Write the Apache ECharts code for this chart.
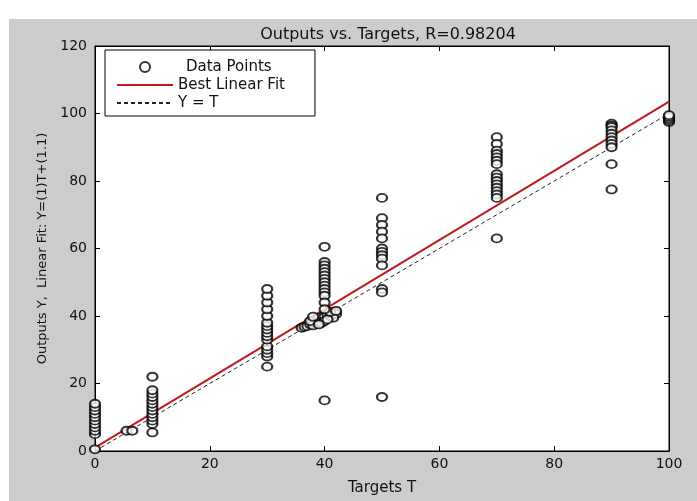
<!DOCTYPE html>
<html><head><meta charset="utf-8">
<script src="https://cdn.jsdelivr.net/npm/echarts@6/dist/echarts.min.js"></script>
<style>
html,body{margin:0;padding:0;background:#fff;width:697px;height:501px;overflow:hidden}
#c{position:absolute;left:9px;top:19px;width:688px;height:482px;background:#cccccc}
</style></head><body><div id="c"></div>
<script>
// Data points: [target, output]
const t0 = [0.5, 5, 6, 7, 8, 9, 10, 11, 12, 13, 14];
const t6 = [[5.5, 6], [6.5, 6]];
const t10 = [5.5, 8, 9, 10, 11, 12, 13, 14, 15, 16, 17, 18, 22];
const t30 = [25, 28, 29, 30, 31, 33, 34, 35, 36, 37, 38, 40, 42, 44, 46, 48];
const blob = [[36, 36.5], [36.5, 36.8], [37, 37], [37.5, 37.5], [38, 38], [38, 37.2], [38.5, 39], [39, 38.3], [39, 39.5], [39.5, 38], [40, 39.8], [40, 38.5], [40.5, 40.5], [41, 40], [41.5, 41], [42, 40.6], [41.5, 39.5], [37.5, 38.5], [38, 39.8], [39, 37.5], [40.5, 39], [41, 41.2], [42, 41.5]];
const t40 = [60.5, 56, 55, 54, 53, 52, 51, 50, 49, 48, 47, 46, 44, 42, 15];
const t50 = [75, 69, 67, 65, 63, 60, 59, 58, 57, 55, 48, 47, 16];
const t70 = [93, 91, 89, 88, 87, 86, 85, 82, 81, 80, 79, 78, 77, 76, 75, 63];
const t90 = [97, 96.5, 96, 95, 94, 93, 92, 91, 90, 85, 77.5];
const t100 = [97.5, 98, 98.5, 99, 99.5];
const fitLine = [[0, 1.0], [100, 103.5]];
const idLine = [[0, 0], [100, 100]];

const pts = [];
t0.forEach(v => pts.push([0, v]));
t6.forEach(p => pts.push(p));
t10.forEach(v => pts.push([10, v]));
t30.forEach(v => pts.push([30, v]));
blob.forEach(p => pts.push(p));
t40.forEach(v => pts.push([40, v]));
t50.forEach(v => pts.push([50, v]));
t70.forEach(v => pts.push([70, v]));
t90.forEach(v => pts.push([90, v]));
t100.forEach(v => pts.push([100, v]));

const font = 'DejaVu Sans, Arial, sans-serif';
const chart = echarts.init(document.getElementById('c'));
const axX = (pos, show) => ({
  type: 'value', position: pos, min: 0, max: 100, interval: 20,
  axisLine: {show: true, onZero: false, lineStyle: {color: '#000', width: 1}},
  axisTick: {show: true, inside: true, length: 5, lineStyle: {color: '#000'}},
  axisLabel: {show: show, color: '#111', fontFamily: font, fontSize: 14, margin: 6},
  splitLine: {show: false},
  name: show ? 'Targets T' : '', nameLocation: 'middle', nameGap: 30,
  nameTextStyle: {color: '#111', fontFamily: font, fontSize: 15}
});
const axY = (pos, show) => ({
  type: 'value', position: pos, min: 0, max: 120, interval: 20,
  axisLine: {show: true, onZero: false, lineStyle: {color: '#000', width: 1}},
  axisTick: {show: true, inside: true, length: 5, lineStyle: {color: '#000'}},
  axisLabel: {show: show, color: '#111', fontFamily: font, fontSize: 14, margin: 8},
  splitLine: {show: false},
  name: show ? 'Outputs Y,  Linear Fit: Y=(1)T+(1.1)' : '', nameLocation: 'middle', nameGap: 44,
  nameTextStyle: {color: '#111', fontFamily: font, fontSize: 13}
});
chart.setOption({
  backgroundColor: 'transparent',
  animation: false,
  title: {text: 'Outputs vs. Targets, R=0.98204', left: 374, top: 3, textAlign: 'center',
    textStyle: {fontFamily: font, fontSize: 16, fontWeight: 'normal', color: '#111'}},
  grid: {left: 86, top: 27, right: 28, bottom: 47, show: true, backgroundColor: '#fff', borderColor: '#000', borderWidth: 1},
  legend: {
    orient: 'vertical', left: 96, top: 31, itemWidth: 56, itemHeight: 10, itemGap: 2,
    backgroundColor: '#fff', borderColor: '#000', borderWidth: 1, borderRadius: 0,
    padding: [9, 30, 5, 11],
    textStyle: {fontFamily: font, fontSize: 15, color: '#111', lineHeight: 16,
      rich: {dp: {fontFamily: font, fontSize: 15, color: '#111', lineHeight: 16, padding: [0, 0, 0, 8]}}},
    formatter: n => n === 'Data Points' ? '{dp|' + n + '}' : n,
    data: [
      {name: 'Data Points'},
      {name: 'Best Linear Fit', itemStyle: {opacity: 0}},
      {name: 'Y = T', itemStyle: {opacity: 0}}
    ]
  },
  xAxis: [axX('bottom', true), axX('top', false)],
  yAxis: [axY('left', true), axY('right', false)],
  series: [
    {name: 'Y = T', type: 'line', data: idLine, showSymbol: false, symbol: 'none',
      lineStyle: {color: '#222', width: 1, type: [4, 3]}, itemStyle: {color: '#222'}, z: 2},
    {name: 'Best Linear Fit', type: 'line', data: fitLine, showSymbol: false, symbol: 'none',
      lineStyle: {color: '#c0191e', width: 2}, itemStyle: {color: '#c0191e'}, z: 3},
    {name: 'Data Points', type: 'scatter', data: pts, symbol: 'emptyCircle', symbolSize: [10, 8],
      itemStyle: {color: '#000', borderColor: '#000', borderWidth: 1.2}, z: 4}
  ]
});
</script></body></html>
